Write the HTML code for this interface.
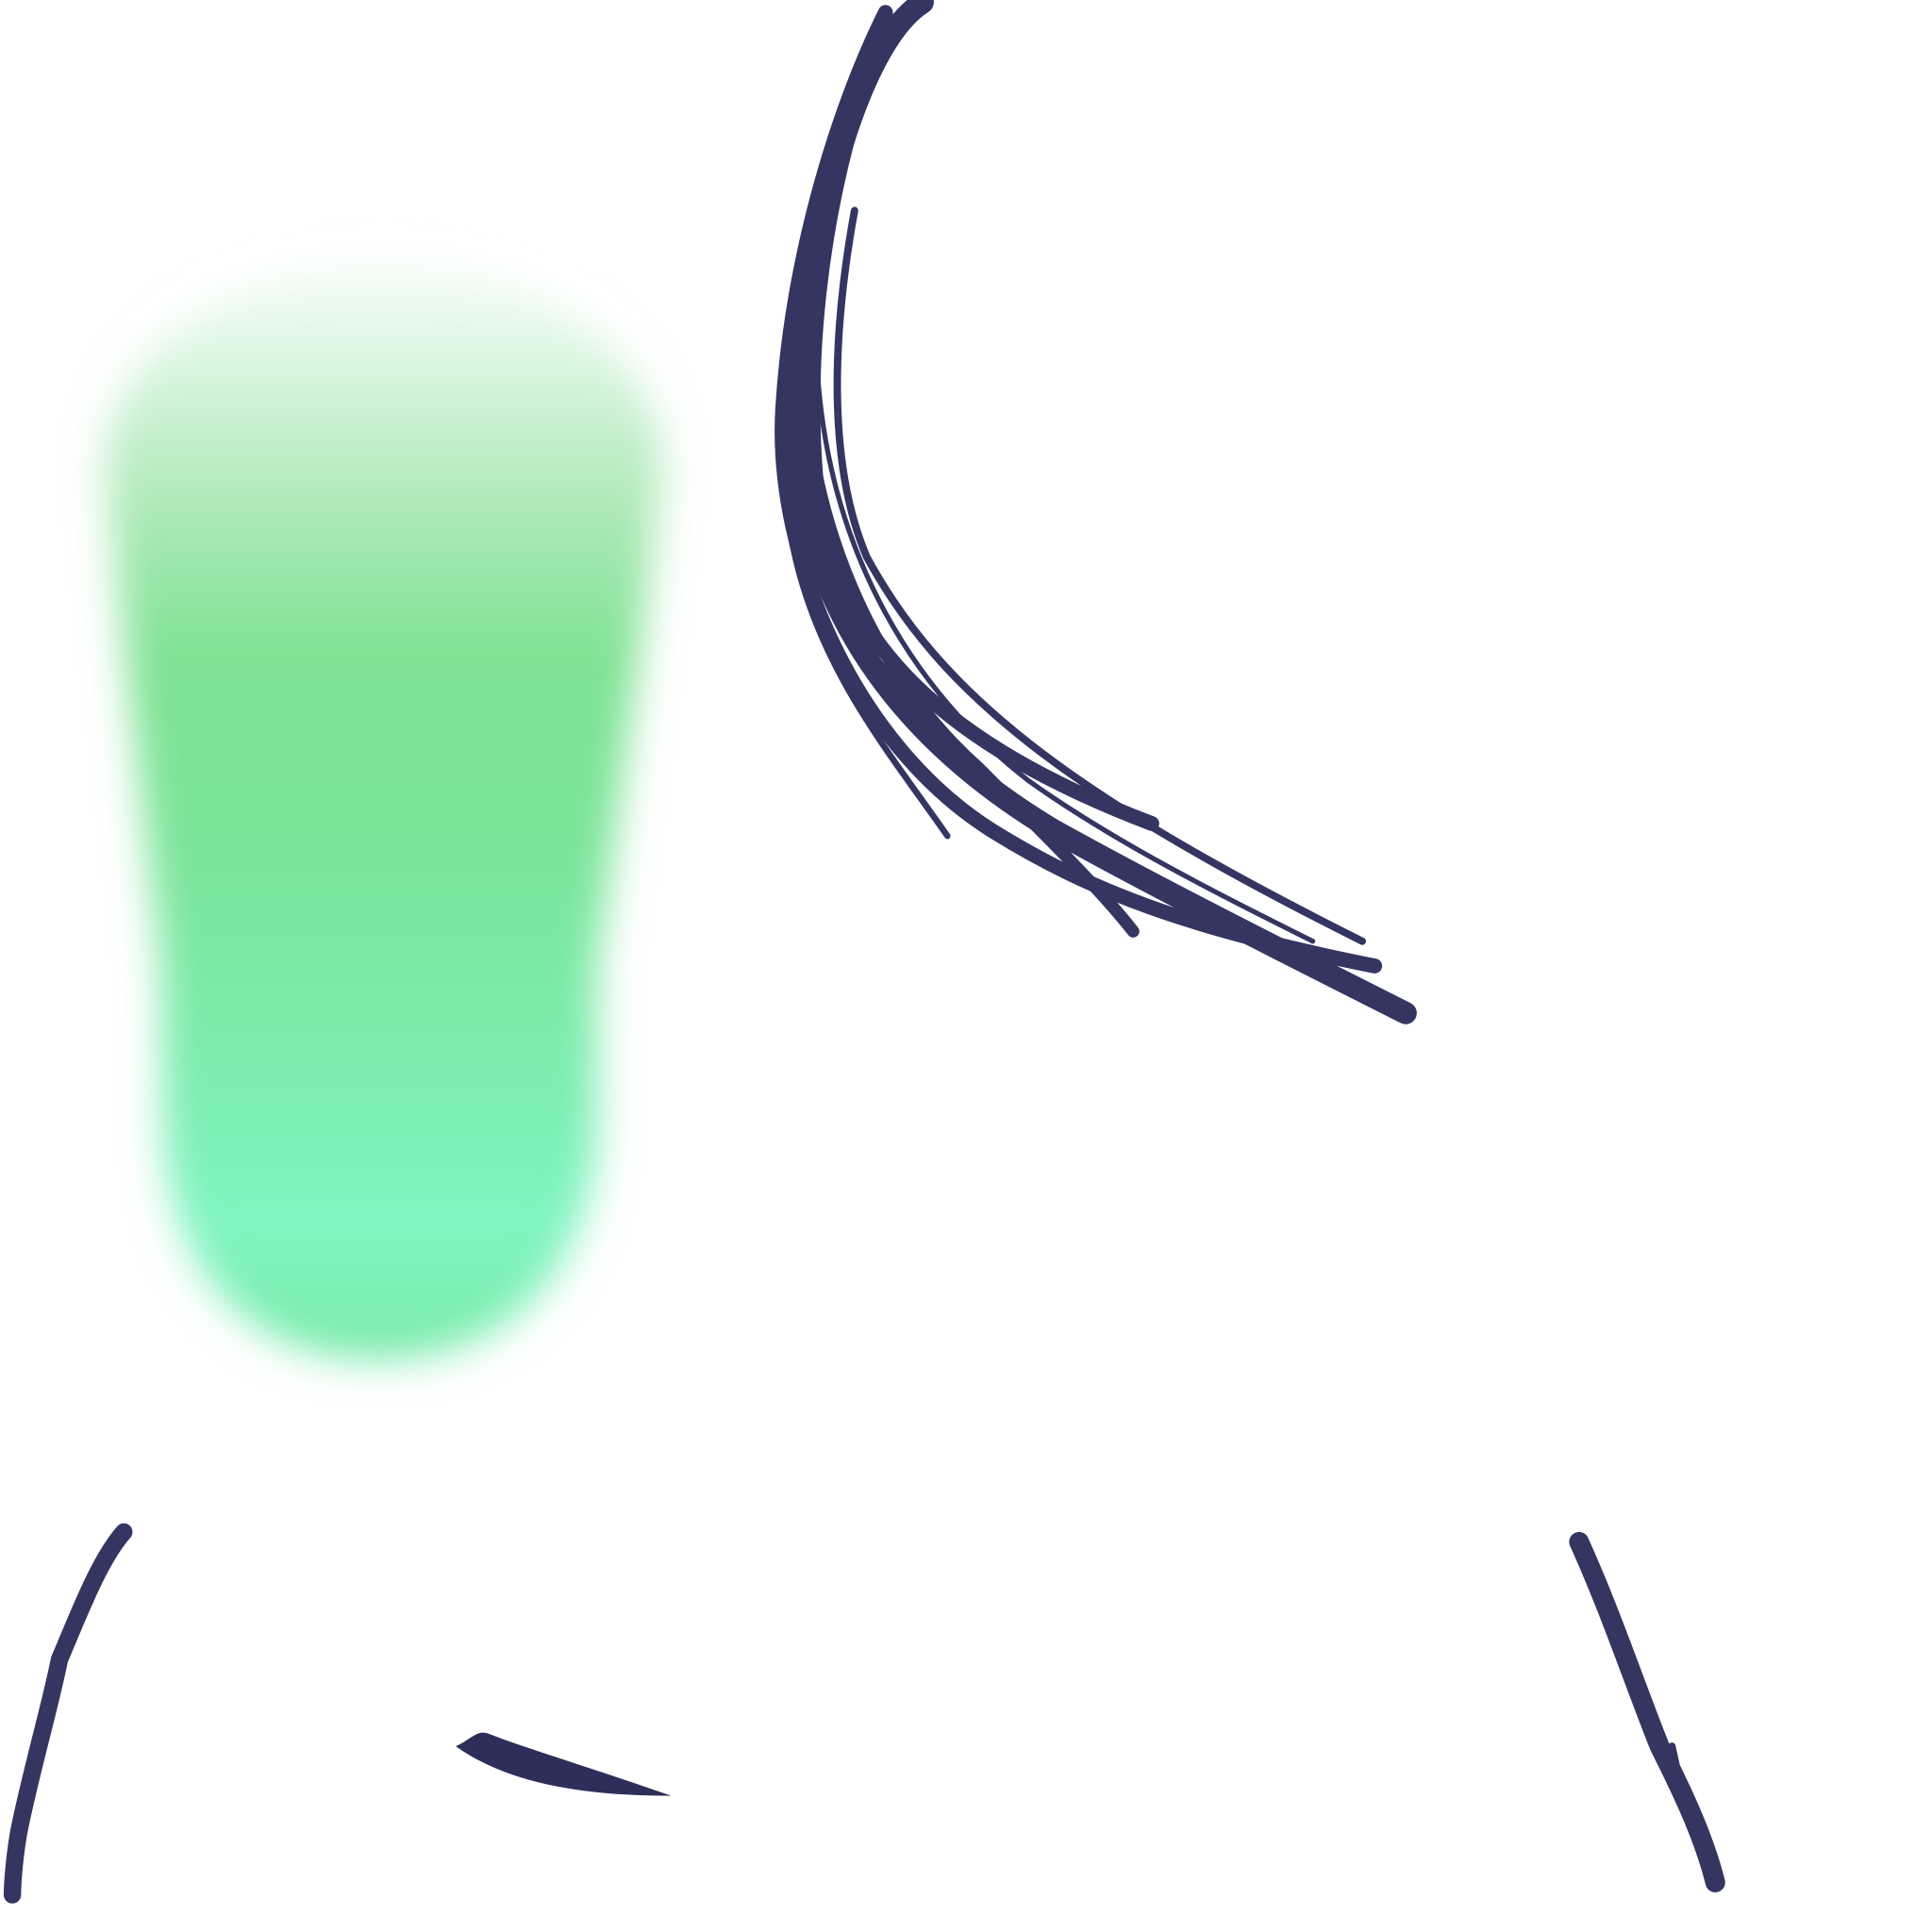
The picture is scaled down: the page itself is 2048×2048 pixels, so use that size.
<!DOCTYPE html>
<html><head><meta charset="utf-8"><style>
html,body{margin:0;padding:0;background:#fff;width:2048px;height:2048px;overflow:hidden}
svg{display:block}
</style></head><body>
<svg width="2048" height="2048" viewBox="0 0 1560 1560" xmlns="http://www.w3.org/2000/svg">
<defs>
<linearGradient id="g1" x1="0" y1="180" x2="0" y2="1100" gradientUnits="userSpaceOnUse">
<stop offset="0" stop-color="#ffffff"/>
<stop offset="0.1" stop-color="#e2f8e6"/>
<stop offset="0.25" stop-color="#ade9b8"/>
<stop offset="0.38" stop-color="#7fe293"/>
<stop offset="0.55" stop-color="#7ae498"/>
<stop offset="0.75" stop-color="#7bedb0"/>
<stop offset="0.88" stop-color="#80f5c0"/>
<stop offset="1" stop-color="#79eaa8"/>
</linearGradient>
<filter id="blur" x="-30%" y="-30%" width="160%" height="160%"><feGaussianBlur stdDeviation="16"/></filter>
</defs>
<g>
<path d="M85,380 C90,160 530,160 535,380 L482,780 L482,900 C482,1035 400,1098 305,1098 C210,1098 132,1035 132,900 L130,780 Z" fill="url(#g1)" filter="url(#blur)"/>
</g>
<g fill="none" stroke="#353562" stroke-linecap="round">
<path d="M745,2 C700,30 660,150 645,300 C630,450 700,580 850,670 C940,720 1040,770 1135,818" stroke-width="18"/>
<path d="M715,10 C680,80 640,200 632,330 C625,450 690,600 800,670 C880,720 960,750 1110,780" stroke-width="12"/>
<path d="M700,60 C660,180 650,300 660,400 C680,520 760,600 930,665" stroke-width="12"/>
<path d="M690,100 C650,220 625,340 640,440 C660,540 720,610 765,675" stroke-width="5"/>
<path d="M690,170 C670,280 670,380 700,450 C760,560 860,640 1100,760" stroke-width="6"/>
<path d="M660,300 C670,450 740,560 830,630 C900,680 980,720 1060,760" stroke-width="4"/>
<path d="M650,250 C640,400 700,540 790,620 C850,680 890,720 915,752" stroke-width="10"/>
</g>
<g fill="none" stroke="#353562" stroke-linecap="round">
<path d="M100,1237 C80,1260 65,1300 48,1340 C40,1380 25,1430 15,1480 C10,1510 10,1530 10,1530" stroke-width="14"/>
</g>
<g>
<path d="M368,1410 C380,1405 385,1396 395,1400 C420,1410 470,1425 542,1450 C470,1450 410,1440 368,1410 Z" fill="#2e2e5a"/>
</g>
<g fill="none" stroke="#353562" stroke-linecap="round">
<path d="M1275,1245 C1300,1300 1320,1360 1340,1410 C1355,1440 1375,1480 1385,1520" stroke-width="16"/>
<path d="M1350,1410 L1362,1465" stroke-width="6"/>
</g>
</svg>
</body></html>
